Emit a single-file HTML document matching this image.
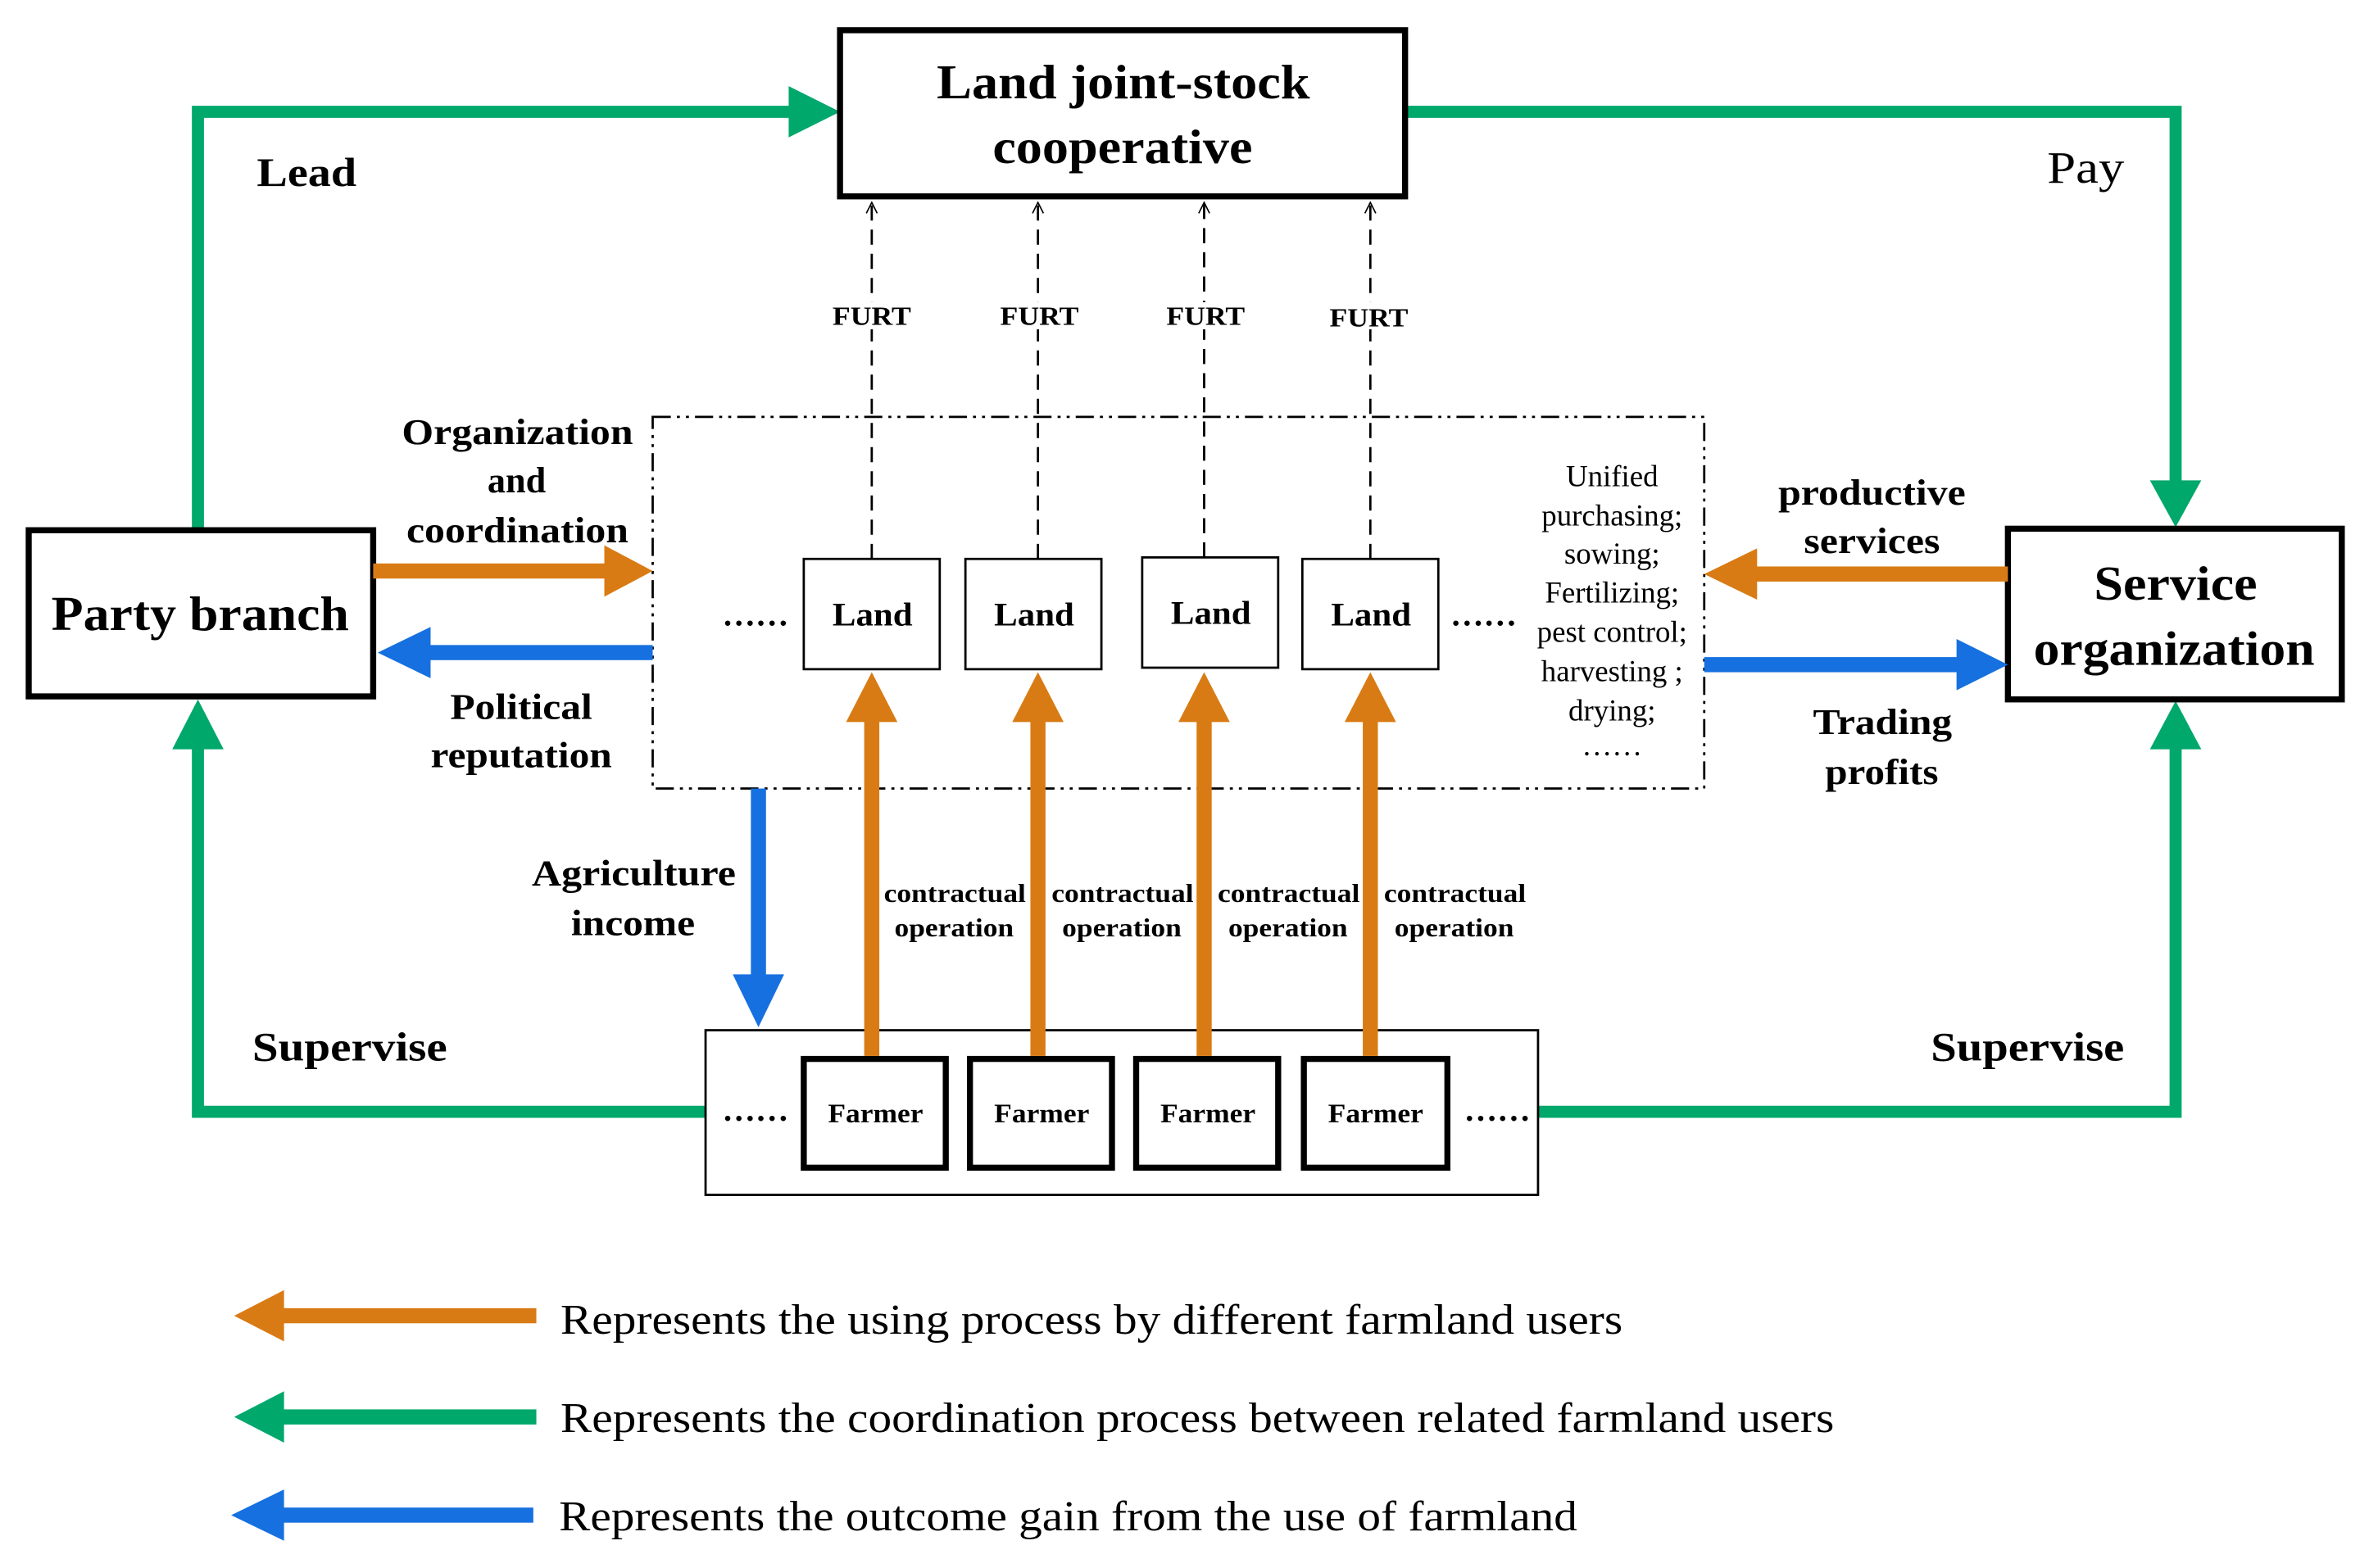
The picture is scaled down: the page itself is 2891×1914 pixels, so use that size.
<!DOCTYPE html>
<html><head><meta charset="utf-8">
<style>
html,body{margin:0;padding:0;background:#fff;}
svg{display:block;}
text{font-family:"Liberation Serif",serif;fill:#000;}
.b{font-weight:bold;}
</style></head>
<body>
<svg width="2891" height="1914" viewBox="0 0 1568 1038" preserveAspectRatio="none" xmlns="http://www.w3.org/2000/svg">
<defs>
<marker id="oa" viewBox="0 0 10 10" refX="9" refY="5" markerWidth="6" markerHeight="6" orient="auto" markerUnits="strokeWidth"><path d="M1,1 L9,5 L1,9" fill="none" stroke="#000" stroke-width="1"/></marker>
</defs>
<rect width="1568" height="1038" fill="#fff"/>
<g fill="none" stroke="#00a86b" stroke-width="8">
<polyline points="131,351 131,74 525,74"/>
<polyline points="930,74 1440,74 1440,320"/>
<polyline points="467,736 131,736 131,494"/>
<polyline points="1018,736 1440,736 1440,494"/>
</g>
<g fill="#00a86b">
<polygon points="522,57 556,74 522,91"/>
<polygon points="1423,318 1457,318 1440,349"/>
<polygon points="114,496 148,496 131,463"/>
<polygon points="1423,496 1457,496 1440,464"/>
</g>
<rect x="556" y="20" width="374" height="110" fill="#fff" stroke="#000" stroke-width="4"/>
<text class="b" x="620" y="65" font-size="32" textLength="247" lengthAdjust="spacingAndGlyphs">Land joint-stock</text>
<text class="b" x="657" y="108" font-size="32" textLength="172" lengthAdjust="spacingAndGlyphs">cooperative</text>
<rect x="19" y="351" width="228" height="110" fill="#fff" stroke="#000" stroke-width="4"/>
<text class="b" x="34" y="417" font-size="32" textLength="197" lengthAdjust="spacingAndGlyphs">Party branch</text>
<rect x="1329" y="350" width="221" height="113" fill="#fff" stroke="#000" stroke-width="4"/>
<text class="b" x="1386" y="397" font-size="32" textLength="108" lengthAdjust="spacingAndGlyphs">Service</text>
<text class="b" x="1346" y="440" font-size="32" textLength="186" lengthAdjust="spacingAndGlyphs">organization</text>
<text class="b" x="170" y="123" font-size="27" textLength="66" lengthAdjust="spacingAndGlyphs">Lead</text>
<text x="1355" y="121" font-size="30" textLength="51" lengthAdjust="spacingAndGlyphs">Pay</text>
<text class="b" x="167" y="702" font-size="27" textLength="129" lengthAdjust="spacingAndGlyphs">Supervise</text>
<text class="b" x="1278" y="702" font-size="27" textLength="128" lengthAdjust="spacingAndGlyphs">Supervise</text>
<rect x="432" y="276" width="696" height="246" fill="none" stroke="#000" stroke-width="1.5" stroke-dasharray="12,4,2,4,2,4"/>
<g stroke="#000" stroke-width="1.5" stroke-dasharray="10,6" marker-end="url(#oa)">
<line x1="577" y1="370" x2="577" y2="134"/>
<line x1="687" y1="370" x2="687" y2="134"/>
<line x1="797" y1="369" x2="797" y2="134"/>
<line x1="907" y1="370" x2="907" y2="134"/>
</g>
<g font-size="17" class="b">
<rect x="550" y="200" width="54" height="18" fill="#fff"/><text x="551" y="215" textLength="52" lengthAdjust="spacingAndGlyphs">FURT</text>
<rect x="660" y="200" width="54" height="18" fill="#fff"/><text x="662" y="215" textLength="52" lengthAdjust="spacingAndGlyphs">FURT</text>
<rect x="770" y="200" width="54" height="18" fill="#fff"/><text x="772" y="215" textLength="52" lengthAdjust="spacingAndGlyphs">FURT</text>
<rect x="880" y="200" width="54" height="18" fill="#fff"/><text x="880" y="216" textLength="52" lengthAdjust="spacingAndGlyphs">FURT</text>
</g>
<g fill="#fff" stroke="#000" stroke-width="1.5">
<rect x="532" y="370" width="90" height="73"/>
<rect x="639" y="370" width="90" height="73"/>
<rect x="756" y="369" width="90" height="73"/>
<rect x="862" y="370" width="90" height="73"/>
</g>
<g class="b" font-size="22">
<text x="551" y="414" textLength="53" lengthAdjust="spacingAndGlyphs">Land</text>
<text x="658" y="414" textLength="53" lengthAdjust="spacingAndGlyphs">Land</text>
<text x="775" y="413" textLength="53" lengthAdjust="spacingAndGlyphs">Land</text>
<text x="881" y="414" textLength="53" lengthAdjust="spacingAndGlyphs">Land</text>
</g>
<text class="b" x="500" y="414" font-size="22" text-anchor="middle">……</text>
<text class="b" x="982" y="414" font-size="22" text-anchor="middle">……</text>
<g font-size="20" text-anchor="middle">
<text x="1067" y="322">Unified</text>
<text x="1067" y="348">purchasing;</text>
<text x="1067" y="373">sowing;</text>
<text x="1067" y="399">Fertilizing;</text>
<text x="1067" y="425">pest control;</text>
<text x="1067" y="451">harvesting ;</text>
<text x="1067" y="477">drying;</text>
<text x="1067" y="500">……</text>
</g>
<rect x="467" y="682" width="551" height="109" fill="#fff" stroke="#000" stroke-width="1.5"/>
<g fill="#fff" stroke="#000" stroke-width="4">
<rect x="532" y="701" width="94" height="72"/>
<rect x="642" y="701" width="94" height="72"/>
<rect x="752" y="701" width="94" height="72"/>
<rect x="863" y="701" width="95" height="72"/>
</g>
<g class="b" font-size="18">
<text x="548" y="743" textLength="63" lengthAdjust="spacingAndGlyphs">Farmer</text>
<text x="658" y="743" textLength="63" lengthAdjust="spacingAndGlyphs">Farmer</text>
<text x="768" y="743" textLength="63" lengthAdjust="spacingAndGlyphs">Farmer</text>
<text x="879" y="743" textLength="63" lengthAdjust="spacingAndGlyphs">Farmer</text>
</g>
<text class="b" x="500" y="742" font-size="22" text-anchor="middle">……</text>
<text class="b" x="991" y="742" font-size="22" text-anchor="middle">……</text>
<g fill="#d97b14">
<rect x="572" y="475" width="10" height="224"/><polygon points="560,478 594,478 577,445"/>
<rect x="682" y="475" width="10" height="224"/><polygon points="670,478 704,478 687,445"/>
<rect x="792" y="475" width="10" height="224"/><polygon points="780,478 814,478 797,445"/>
<rect x="902" y="475" width="10" height="224"/><polygon points="890,478 924,478 907,445"/>
<rect x="247" y="373" width="156" height="10"/><polygon points="400,361 432,378 400,395"/>
<rect x="1160" y="375" width="169" height="10"/><polygon points="1163,363 1128,380 1163,397"/>
<rect x="185" y="866" width="170" height="10"/><polygon points="188,854 155,871 188,888"/>
</g>
<g fill="#1670e0">
<rect x="283" y="427" width="149" height="10"/><polygon points="285,415 250,432 285,449"/>
<rect x="1128" y="435" width="170" height="10"/><polygon points="1295,423 1329,440 1295,457"/>
<rect x="497" y="522" width="10" height="126"/><polygon points="485,645 519,645 502,680"/>
<rect x="185" y="998" width="168" height="10"/><polygon points="188,986 153,1003 188,1020"/>
</g>
<g fill="#00a86b">
<rect x="185" y="933" width="170" height="10"/><polygon points="188,921 155,938 188,955"/>
</g>
<g class="b" font-size="17">
<text x="585" y="597" textLength="94" lengthAdjust="spacingAndGlyphs">contractual</text><text x="592" y="620" textLength="79" lengthAdjust="spacingAndGlyphs">operation</text>
<text x="696" y="597" textLength="94" lengthAdjust="spacingAndGlyphs">contractual</text><text x="703" y="620" textLength="79" lengthAdjust="spacingAndGlyphs">operation</text>
<text x="806" y="597" textLength="94" lengthAdjust="spacingAndGlyphs">contractual</text><text x="813" y="620" textLength="79" lengthAdjust="spacingAndGlyphs">operation</text>
<text x="916" y="597" textLength="94" lengthAdjust="spacingAndGlyphs">contractual</text><text x="923" y="620" textLength="79" lengthAdjust="spacingAndGlyphs">operation</text>
</g>
<g class="b" font-size="24">
<text x="266" y="294" textLength="153" lengthAdjust="spacingAndGlyphs">Organization</text>
<text x="342" y="326" text-anchor="middle">and</text>
<text x="269" y="359" textLength="147" lengthAdjust="spacingAndGlyphs">coordination</text>
<text x="298" y="476" textLength="94" lengthAdjust="spacingAndGlyphs">Political</text>
<text x="285" y="508" textLength="120" lengthAdjust="spacingAndGlyphs">reputation</text>
<text x="1177" y="334" textLength="124" lengthAdjust="spacingAndGlyphs">productive</text>
<text x="1194" y="366" textLength="90" lengthAdjust="spacingAndGlyphs">services</text>
<text x="1200" y="486" textLength="92" lengthAdjust="spacingAndGlyphs">Trading</text>
<text x="1208" y="519" textLength="75" lengthAdjust="spacingAndGlyphs">profits</text>
<text x="352" y="586" textLength="135" lengthAdjust="spacingAndGlyphs">Agriculture</text>
<text x="378" y="619" textLength="82" lengthAdjust="spacingAndGlyphs">income</text>
</g>
<g font-size="28">
<text x="371" y="883" textLength="703" lengthAdjust="spacingAndGlyphs">Represents the using process by different farmland users</text>
<text x="371" y="948" textLength="843" lengthAdjust="spacingAndGlyphs">Represents the coordination process between related farmland users</text>
<text x="370" y="1013" textLength="674" lengthAdjust="spacingAndGlyphs">Represents the outcome gain from the use of farmland</text>
</g>
</svg>
</body></html>
